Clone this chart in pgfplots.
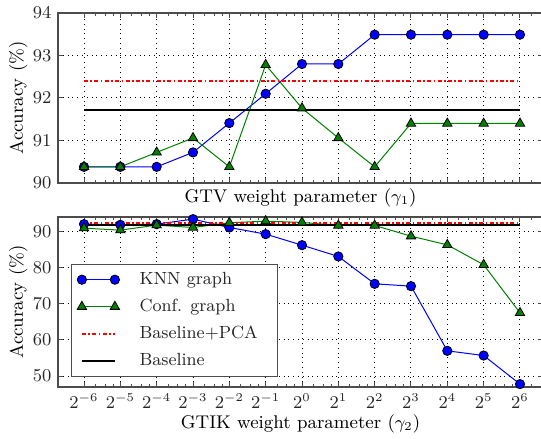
\documentclass[border=0pt]{standalone}
\usepackage{pgfplots}
\pgfplotsset{compat=1.18}
\definecolor{spine}{gray}{0.3}
\definecolor{txt}{gray}{0.15}
\pgfplotsset{
  mystyle/.style={
    scale only axis, width=242.5pt, height=85pt,
    xmin=-6.716, xmax=6.633,
    xtick={-6,...,6},
    minor xtick={-5.68,-5.415,-5.193,-4.68,-4.415,-4.193,-3.68,-3.415,-3.193,-2.68,-2.415,-2.193,-1.68,-1.415,-1.193,-0.68,-0.415,-0.193,0.32,0.585,0.807,1.32,1.585,1.807,2.32,2.585,2.807,3.32,3.585,3.807,4.32,4.585,4.807,5.32,5.585,5.807,6.32},
    tick align=inside,
    major tick length=2.5pt, minor tick length=1.3pt,
    every tick/.style={spine, line width=0.5pt},
    axis line style={spine, line width=0.9pt},
    grid=major,
    major grid style={black, dotted, line width=0.5pt},
    tick label style={txt},
    label style={txt},
    every axis y label/.style={at={(axis description cs:-0.082,0.5)}, rotate=90, anchor=center},
    clip=false,
  },
  knn/.style={blue, line width=0.5pt, mark=*, mark size=2.33pt, mark options={fill=blue, draw=black, line width=0.4pt}},
  conf/.style={green!50!black, line width=0.5pt, mark=triangle*, mark size=2.7pt, mark options={fill=green!50!black, draw=black, line width=0.4pt}},
  pca/.style={red, line width=1pt, dash pattern=on 2pt off 1.2pt on 0.8pt off 1.2pt},
  base/.style={black, line width=1.1pt},
  twomark/.style={legend image code/.code={\draw[##1] plot coordinates {(0pt,0pt) (16.5pt,0pt)};}},
  oneline/.style={legend image code/.code={\draw[##1] (0pt,0pt) -- (16.5pt,0pt);}},
}
\begin{document}
\fontsize{9.2pt}{11pt}\selectfont
\begin{tikzpicture}
\begin{axis}[mystyle, at={(0,0)}, anchor=north west,
  ymin=90, ymax=94, ytick={90,91,92,93,94},
  xticklabels={},
  ylabel={Accuracy (\%)},
  xlabel={GTV weight parameter ($\gamma_1$)},
  every axis x label/.style={at={(axis description cs:0.5,-0.085)}, anchor=center},
]
\addplot[knn] coordinates {(-6,90.38) (-5,90.38) (-4,90.38) (-3,90.72) (-2,91.41) (-1,92.10) (0,92.80) (1,92.80) (2,93.49) (3,93.49) (4,93.49) (5,93.49) (6,93.49)};
\addplot[conf] coordinates {(-6,90.38) (-5,90.38) (-4,90.72) (-3,91.06) (-2,90.38) (-1,92.78) (0,91.76) (1,91.06) (2,90.38) (3,91.40) (4,91.40) (5,91.40) (6,91.40)};
\addplot[pca] coordinates {(-6,92.41) (6,92.41)};
\addplot[base] coordinates {(-6,91.71) (6,91.71)};
\end{axis}
\begin{axis}[mystyle, at={(0,-102pt)}, anchor=north west,
  ymin=47, ymax=94, ytick={50,60,70,80,90},
  xticklabels={$2^{-6}$,$2^{-5}$,$2^{-4}$,$2^{-3}$,$2^{-2}$,$2^{-1}$,$2^{0}$,$2^{1}$,$2^{2}$,$2^{3}$,$2^{4}$,$2^{5}$,$2^{6}$},
  ylabel={Accuracy (\%)},
  xlabel={GTIK weight parameter ($\gamma_2$)},
  every axis x label/.style={at={(axis description cs:0.5,-0.215)}, anchor=center},
  legend style={at={(axis description cs:0.026,0.06)}, anchor=south west, draw=spine, line width=0.6pt, fill=white, inner xsep=3pt, inner ysep=1.5pt, row sep=1pt, font=\fontsize{8.8pt}{10pt}\selectfont, text=txt,
    nodes={inner xsep=0pt, inner ysep=2pt, text height=6.5pt, text depth=2pt},
    /tikz/every odd column/.append style={column sep=10pt}},
  legend cell align=left,
]
\addplot[knn, twomark] coordinates {(-6,92.03) (-5,91.84) (-4,92.03) (-3,93.41) (-2,91.10) (-1,89.26) (0,86.22) (1,83.09) (2,75.53) (3,74.88) (4,57.0) (5,55.7) (6,47.8)};
\addlegendentry{KNN graph}
\addplot[conf, twomark] coordinates {(-6,90.92) (-5,90.37) (-4,91.75) (-3,91.10) (-2,92.40) (-1,92.86) (0,92.50) (1,91.66) (2,91.66) (3,88.7) (4,86.3) (5,80.8) (6,67.5)};
\addlegendentry{Conf. graph}
\addplot[pca, oneline] coordinates {(-6,92.41) (6,92.41)};
\addlegendentry{Baseline+PCA\hspace*{7pt}}
\addplot[base, oneline] coordinates {(-6,91.71) (6,91.71)};
\addlegendentry{Baseline}
\end{axis}
\pgfresetboundingbox
\useasboundingbox (-29pt,6.5pt) rectangle (241.5pt,-213pt);
\end{tikzpicture}
\end{document}
